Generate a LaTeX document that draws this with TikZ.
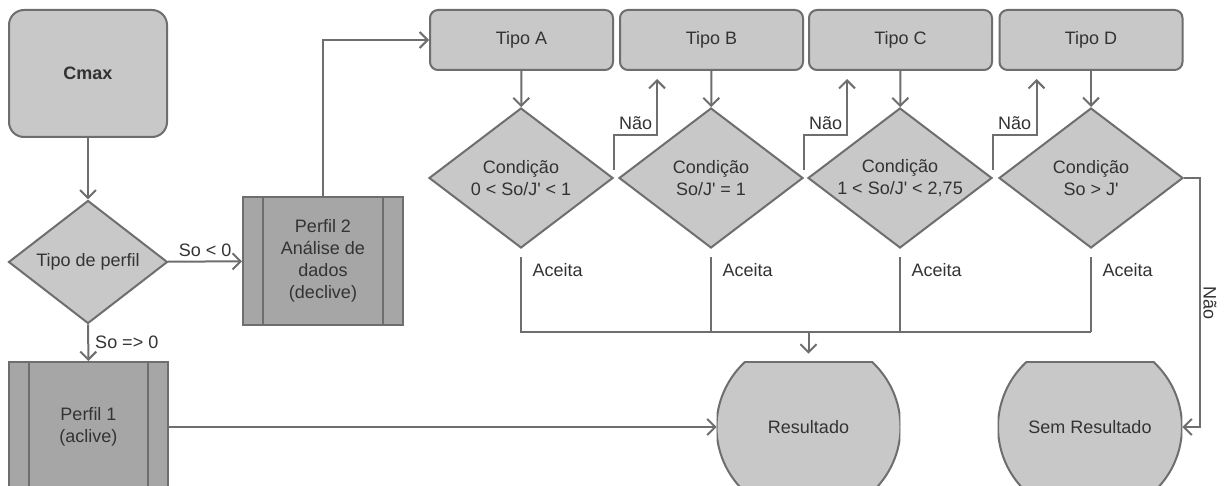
\documentclass[tikz,border=0pt]{standalone}
\usepackage{fontspec}
\setmainfont{Liberation Sans}
\usetikzlibrary{arrows.meta,shapes.geometric,backgrounds}
\definecolor{boxfill}{HTML}{C8C8C8}
\definecolor{procfill}{HTML}{A6A6A6}
\definecolor{edge}{HTML}{6E6E6E}
\definecolor{ink}{HTML}{333333}
% bulged-side terminal shape drawn around a (rectangular, invisible) node
\newcommand\drawoutshape[1]{%
  \begin{scope}
    \clip (#1.north west) rectangle (#1.south east);
    \fill[boxfill] (#1.center) ellipse [x radius=46pt, y radius=45pt];
    \draw[link] (#1.center) ellipse [x radius=46pt, y radius=45pt];
  \end{scope}
  \begin{scope}
    \clip (#1.center) ellipse [x radius=46pt, y radius=45pt];
    \draw[link] (#1.north west) -- (#1.north east) (#1.south west) -- (#1.south east);
  \end{scope}}
\begin{document}
\begin{tikzpicture}[x=0.5pt,y=-0.5pt,
  every node/.style={font=\fontsize{9}{11}\selectfont, text=ink, align=center},
  base/.style={draw=edge, line width=1pt, fill=boxfill, inner sep=0pt},
  startbox/.style={base, rounded corners=7.5pt, minimum width=79pt, minimum height=63.5pt},
  typebox/.style={base, rounded corners=4pt, minimum width=91.5pt, minimum height=30pt},
  decision/.style={base, diamond, aspect=1.3},
  procbox/.style={base, fill=procfill, minimum width=80pt, minimum height=64pt},
  outbox/.style={inner sep=0pt, minimum width=91.5pt, minimum height=65pt},
  link/.style={draw=edge, line width=1pt},
  arr/.style={link, -{Straight Barb[length=4pt,width=8pt]}},
  lbl/.style={inner sep=2pt}
]
\useasboundingbox (0,0) rectangle (1225,486);

% left column
\node[startbox, font=\fontsize{9}{11}\selectfont\bfseries] (cmax) at (88,73.5) {Cmax};
\node[decision, minimum width=79.5pt, minimum height=61.5pt] (perfil) at (88,262) {Tipo de perfil};
\node[procbox] (p2) at (323,261) {Perfil 2\\Análise de\\dados\\(declive)};
\node[procbox, minimum width=79.5pt, minimum height=65pt] (p1) at (88.5,427) {Perfil 1\\(aclive)};
\foreach \p in {p1,p2}
  \draw[link] ([xshift=10.5pt]\p.north west) -- ([xshift=10.5pt]\p.south west)
              ([xshift=-10.5pt]\p.north east) -- ([xshift=-10.5pt]\p.south east);

% types and their conditions
\node[typebox] (tA) at (521.5,40) {Tipo A};
\node[typebox] (tB) at (711.5,40) {Tipo B};
\node[typebox] (tC) at (900.5,40) {Tipo C};
\node[typebox] (tD) at (1091,40) {Tipo D};
\begin{scope}[every node/.append style={decision, minimum width=92pt, minimum height=70pt}]
\node (dA) at (521,178) {Condição\\0 < So/J\textquotesingle{} < 1};
\node (dB) at (711,178) {Condição\\So/J\textquotesingle{} = 1};
\node (dC) at (900,178) {Condição\\1 < So/J\textquotesingle{} < 2,75};
\node (dD) at (1091,178) {Condição\\So > J\textquotesingle};
\end{scope}

% results
\node[outbox] (res) at (808.5,427) {Resultado};
\node[outbox, minimum width=92pt] (sem) at (1090,427) {Sem Resultado};

% connectors
\draw[arr] (cmax) -- (perfil);
\draw[arr] (perfil) -- node[above, lbl] {So < 0} (p2);
\draw[arr] (perfil) -- node[right, lbl, xshift=1pt] {So => 0} (p1);
\draw[arr] (p2.north) |- (tA.west);
\draw[arr] (p1) -- (res);
\foreach \t/\d in {tA/dA,tB/dB,tC/dC,tD/dD}
  \draw[arr] (\t) -- (\d);

\draw[arr] ([yshift=4pt]dA.east) -- ++(0,-35) node[anchor=south west, lbl] {Não}
  -| ([xshift=19pt,yshift=-4pt]tB.south west);
\draw[arr] ([yshift=4pt]dB.east) -- ++(0,-35) node[anchor=south west, lbl] {Não}
  -| ([xshift=19.5pt,yshift=-4pt]tC.south west);
\draw[arr] ([yshift=4pt]dC.east) -- ++(0,-35) node[anchor=south west, lbl] {Não}
  -| ([xshift=19pt,yshift=-4pt]tD.south west);

\coordinate (busL) at (dA.south |- 0,332);
\coordinate (busR) at (dD.south |- 0,332);
\draw[link] ([yshift=-4pt]dA.south) -- node[pos=0.17, anchor=west, xshift=2pt] {Aceita} (busL)
  -- (busR);
\draw[link] ([yshift=-4pt]dD.south) -- node[pos=0.17, anchor=west, xshift=2pt] {Aceita} (busR);
\draw[link] ([yshift=-4pt]dB.south) -- node[pos=0.17, anchor=west, xshift=2pt] {Aceita} (dB.south |- busL);
\draw[link] ([yshift=-4pt]dC.south) -- node[pos=0.17, anchor=west, xshift=2pt] {Aceita} (dC.south |- busL);
\draw[arr] (res.north |- busL) -- ([yshift=4pt]res.north);

\draw[arr] (dD.east) -- ++(16,0) |- (sem.east);
\node[rotate=-90] (naoD) at (1210,303) {Não};

\begin{scope}[on background layer]
  \fill[white] (0,0) rectangle (1225,486);
  \drawoutshape{res}
  \drawoutshape{sem}
\end{scope}
\end{tikzpicture}
\end{document}
